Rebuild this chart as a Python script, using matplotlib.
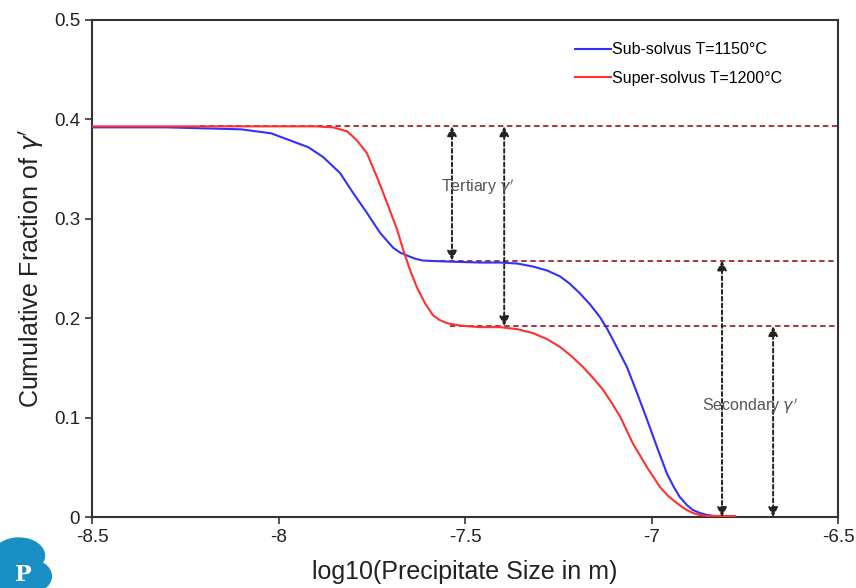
import matplotlib

matplotlib.use("Agg")
import matplotlib.pyplot as plt
from matplotlib.patches import Circle

plt.rcParams["font.family"] = ["Liberation Sans", "DejaVu Sans"]

# values
sub_x = [-8.50, -8.30, -8.20, -8.10, -8.06, -8.02, -7.97, -7.92, -7.88, -7.835,
         -7.80, -7.763, -7.728, -7.693, -7.674, -7.655, -7.635, -7.613, -7.548,
         -7.46, -7.406, -7.36, -7.318, -7.28, -7.245, -7.22, -7.192, -7.165,
         -7.138, -7.12, -7.103, -7.066, -7.039, -7.012, -6.985, -6.959, -6.94,
         -6.924, -6.905, -6.889, -6.87, -6.851, -6.83]
sub_y = [0.392, 0.392, 0.391, 0.390, 0.388, 0.386, 0.379, 0.372, 0.362, 0.346,
         0.326, 0.306, 0.286, 0.271, 0.266, 0.263, 0.260, 0.258, 0.257,
         0.256, 0.256, 0.255, 0.252, 0.248, 0.242, 0.235, 0.225, 0.214,
         0.201, 0.190, 0.178, 0.151, 0.125, 0.098, 0.070, 0.044, 0.030,
         0.020, 0.012, 0.007, 0.004, 0.002, 0.001]

super_x = [-8.50, -8.10, -7.90, -7.88, -7.854, -7.835, -7.816, -7.790, -7.763,
           -7.736, -7.709, -7.682, -7.666, -7.647, -7.629, -7.607, -7.586, -7.567,
           -7.548, -7.52, -7.495, -7.46, -7.406, -7.36, -7.318, -7.28, -7.245,
           -7.215, -7.184, -7.157, -7.130, -7.107, -7.084, -7.050, -7.012, -6.977,
           -6.955, -6.932, -6.91, -6.889, -6.87, -6.851, -6.776]
super_y = [0.393, 0.393, 0.393, 0.3925, 0.392, 0.390, 0.388, 0.379, 0.366,
           0.342, 0.316, 0.289, 0.269, 0.248, 0.231, 0.215, 0.203, 0.198,
           0.195, 0.193, 0.192, 0.191, 0.191, 0.189, 0.185, 0.179, 0.171,
           0.162, 0.151, 0.140, 0.128, 0.115, 0.101, 0.074, 0.050, 0.030,
           0.021, 0.014, 0.008, 0.004, 0.002, 0.001, 0.001]

# reference levels: (value, start x)
levels = [(0.393, -8.21), (0.258, -7.59), (0.192, -7.54)]
# arrows: (x, top, bottom)
arrows = [(-7.535, 0.393, 0.258), (-7.395, 0.393, 0.192),
          (-6.811, 0.258, 0.0), (-6.674, 0.192, 0.0)]

fig = plt.figure(figsize=(8.56, 5.88), dpi=100, facecolor="white")
ax = fig.add_axes([0.1075, 0.1207, 0.8715, 0.8453])

for value, start in levels:
    ax.plot([start, -6.5], [value, value], color="#a3262a", linestyle=(0, (3, 2)),
            linewidth=1.3, zorder=2)

ax.plot(sub_x, sub_y, color="#3030ff", linewidth=1.5, label="Sub-solvus T=1150\u00b0C", zorder=3)
ax.plot(super_x, super_y, color="#ff3030", linewidth=1.5, label="Super-solvus T=1200\u00b0C", zorder=3)

for x, top, bottom in arrows:
    ax.annotate("", xy=(x, bottom), xytext=(x, top),
                arrowprops=dict(arrowstyle="<|-|>", color="#222222", linestyle=(0, (2, 1.5)),
                                linewidth=1.4, mutation_scale=14, shrinkA=0, shrinkB=0),
                zorder=4)

ax.text(-7.465, 0.332, "Tertiary $\\gamma'$", ha="center", va="center", fontsize=11.5,
        color="#555555", zorder=5)
ax.text(-6.736, 0.112, "Secondary $\\gamma'$", ha="center", va="center", fontsize=11.5,
        color="#555555", zorder=5)

ax.set_xlim(-8.5, -6.5)
ax.set_ylim(0, 0.5)
ax.set_xticks([-8.5, -8, -7.5, -7, -6.5], ["-8.5", "-8", "-7.5", "-7", "-6.5"])
ax.set_yticks([0, 0.1, 0.2, 0.3, 0.4, 0.5], ["0", "0.1", "0.2", "0.3", "0.4", "0.5"])
ax.tick_params(direction="out", length=5, width=1.2, labelsize=13.5, color="#333333",
               labelcolor="#222222", top=False, right=False)
for spine in ax.spines.values():
    spine.set_linewidth(1.5)
    spine.set_color("#333333")

ax.set_xlabel("log10(Precipitate Size in m)", fontsize=18, color="#222222", labelpad=10)
ax.set_ylabel("Cumulative Fraction of $\\gamma'$", fontsize=18, color="#222222", labelpad=6)

ax.legend(loc="upper left", bbox_to_anchor=(0.647, 0.955), frameon=False, fontsize=11.5,
          handlelength=2.3, handletextpad=0.05, labelspacing=0.85, borderpad=0,
          borderaxespad=0)

# small logo in the lower left corner
for cx, cy, r in [(0.022, 0.055, 0.03), (0.008, 0.03, 0.035), (0.03, 0.02, 0.03)]:
    fig.patches.append(Circle((cx, cy), r, transform=fig.transFigure, color="#1a8fc4", zorder=0))
fig.text(0.018, 0.012, "P", fontsize=16, weight="bold", color="white", family="DejaVu Serif")

fig.savefig("out.png", dpi=100, facecolor="white")
